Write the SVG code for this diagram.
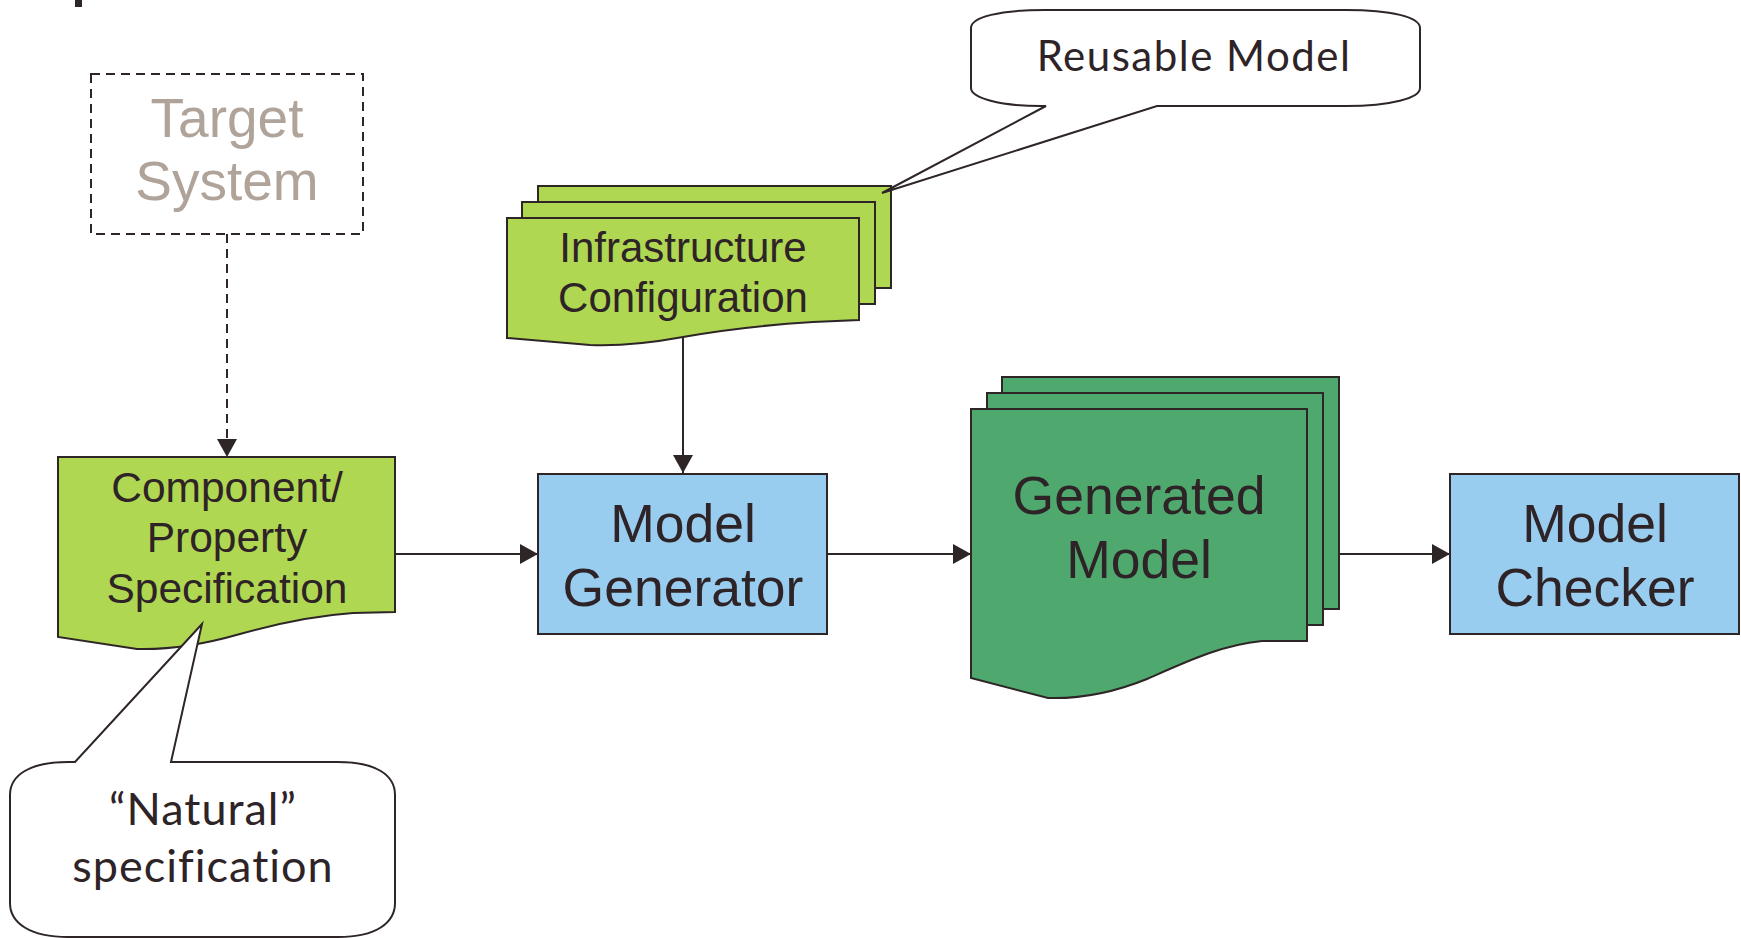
<svg xmlns="http://www.w3.org/2000/svg" width="1741" height="938" viewBox="0 0 1741 938">
  <defs>
    <style>
      .edge { stroke: #2e2527; stroke-width: 2; fill: none; }
      .dash { stroke-dasharray: 9 6; }
      .lime { fill: #b0d752; stroke: #2e2527; stroke-width: 2; }
      .moss { fill: #4fa96e; stroke: #2e2527; stroke-width: 2; }
      .sky { fill: #99cdef; stroke: #2e2527; stroke-width: 2; }
      .bubble { fill: #ffffff; stroke: #2e2527; stroke-width: 2; }
      .lbl { font-family: "Liberation Sans", Arial, sans-serif; fill: #2e2326; text-anchor: middle; }
      .note { font-family: Lato, "Liberation Sans", sans-serif; font-weight: 400; fill: #2e2326; text-anchor: middle; }
    </style>
    <marker id="arrow" viewBox="0 0 18 20" refX="18" refY="10" markerWidth="18" markerHeight="20" markerUnits="userSpaceOnUse" orient="auto">
      <path d="M0,0 L18,10 L0,20 Z" fill="#2e2527"/>
    </marker>
  </defs>

  <rect x="75" y="0" width="7" height="7" fill="#2e2527"/>

  <!-- connectors -->
  <g id="connectors">
    <line class="edge dash" x1="227" y1="234" x2="227" y2="457" marker-end="url(#arrow)"/>
    <line class="edge" x1="683" y1="337" x2="683" y2="473" marker-end="url(#arrow)"/>
    <line class="edge" x1="395" y1="554" x2="538" y2="554" marker-end="url(#arrow)"/>
    <line class="edge" x1="827" y1="554" x2="971" y2="554" marker-end="url(#arrow)"/>
    <line class="edge" x1="1339" y1="554" x2="1450" y2="554" marker-end="url(#arrow)"/>
  </g>

  <!-- target system -->
  <g id="target-system">
    <rect x="91" y="74" width="272" height="160" fill="#ffffff" stroke="#2e2527" stroke-width="2" stroke-dasharray="9 6"/>
    <text class="lbl" x="227" y="137" font-size="55" style="fill:#b0a399">Target</text>
    <text class="lbl" x="227" y="200" font-size="55" style="fill:#b0a399">System</text>
  </g>

  <!-- component / property specification -->
  <g id="component-spec">
    <path class="lime" d="M58,457 H395 V612 L353,613 C310,616 272,625 240,634 C205,644 172,650 137,649 L58,637 Z"/>
    <text class="lbl" x="227" y="502" font-size="42.5">Component/</text>
    <text class="lbl" x="227" y="552" font-size="42.5">Property</text>
    <text class="lbl" x="227" y="603" font-size="42.5">Specification</text>
  </g>

  <!-- infrastructure configuration -->
  <g id="infrastructure">
    <rect class="lime" x="538" y="186" width="353" height="102"/>
    <rect class="lime" x="522" y="202" width="353" height="102"/>
    <path class="lime" d="M507,218 H859 V320 L813,322 C765,325 722,330 683,337 C645,344 615,346 590,345 L507,338 Z"/>
    <text class="lbl" x="683" y="262" font-size="42">Infrastructure</text>
    <text class="lbl" x="683" y="312" font-size="42">Configuration</text>
  </g>

  <!-- model generator -->
  <g id="model-generator">
    <rect class="sky" x="538" y="474" width="289" height="160"/>
    <text class="lbl" x="683" y="542" font-size="53.5">Model</text>
    <text class="lbl" x="683" y="606" font-size="53.5">Generator</text>
  </g>

  <!-- generated model -->
  <g id="generated-model">
    <rect class="moss" x="1002" y="377" width="337" height="232"/>
    <rect class="moss" x="987" y="393" width="336" height="232"/>
    <path class="moss" d="M971,409 H1307 V641 L1262,641 C1222,645 1190,660 1147,679 C1110,694 1080,699 1048,698 L971,678 Z"/>
    <text class="lbl" x="1139" y="514" font-size="53.5">Generated</text>
    <text class="lbl" x="1139" y="578" font-size="53.5">Model</text>
  </g>

  <!-- model checker -->
  <g id="model-checker">
    <rect class="sky" x="1450" y="474" width="289" height="160"/>
    <text class="lbl" x="1595" y="542" font-size="53.5">Model</text>
    <text class="lbl" x="1595" y="606" font-size="53.5">Checker</text>
  </g>

  <!-- reusable model callout -->
  <g id="reusable-note">
    <path class="bubble" d="M1046,106 L1041,106 C1000,106 971,98 971,88 V28 C971,17 1000,10 1045,10 H1346 C1391,10 1420,17 1420,28 V88 C1420,98 1391,106 1346,106 H1157 L882,193 Z"/>
    <text class="note" x="1194" y="71" font-size="42" letter-spacing="1.5">Reusable Model</text>
  </g>

  <!-- natural specification callout -->
  <g id="natural-note">
    <path class="bubble" d="M75,762 H68 C30,762 10,775 10,795 V903 C10,923 30,937 68,937 H338 C376,937 395,923 395,903 V795 C395,775 376,762 338,762 H171 L202,624 Z"/>
    <text class="note" x="203" y="825" font-size="45" letter-spacing="1">“Natural”</text>
    <text class="note" x="203" y="882" font-size="45" letter-spacing="1">specification</text>
  </g>
</svg>
